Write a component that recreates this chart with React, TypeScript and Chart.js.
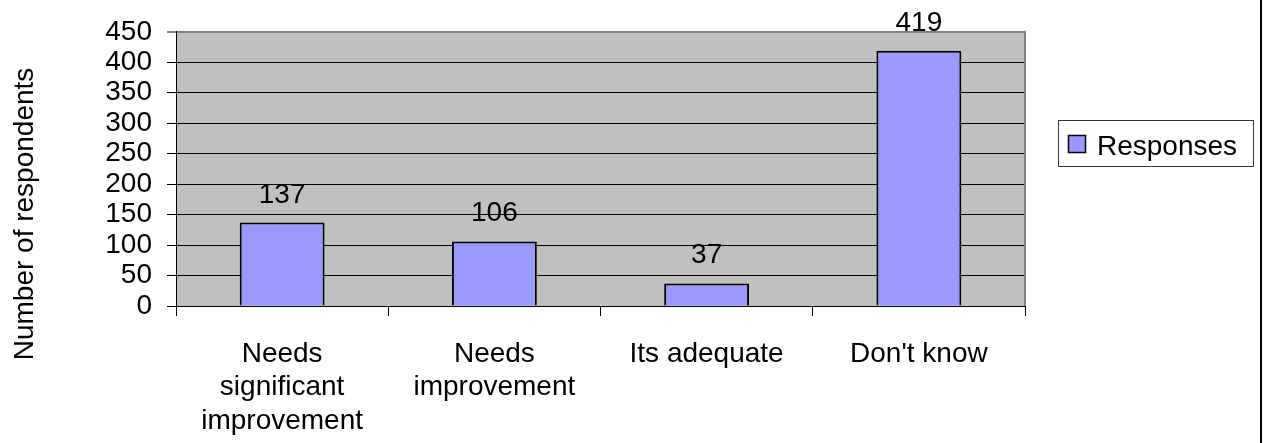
import React, { useEffect, useRef } from "react";
import { Chart, registerables } from "chart.js";

Chart.register(...registerables);

const categories: (string | string[])[] = [
  ["Needs", "significant", "improvement"],
  ["Needs", "improvement"],
  "Its adequate",
  "Don't know",
];
const seriesLabel = "Responses";
const responses: number[] = [137, 106, 37, 419];
const yTicks: number[] = [0, 50, 100, 150, 200, 250, 300, 350, 400, 450];
const yTitle = "Number of respondents";

const FONT = "'Liberation Sans', Arial, sans-serif";
const BAR_COLOR = "#9999FF";

export default function App() {
  const ref = useRef<HTMLCanvasElement | null>(null);

  useEffect(() => {
    if (!ref.current) return;
    const decor = {
      id: "decor",
      beforeDraw(chart: any) {
        const { ctx, chartArea: a } = chart;
        ctx.save();
        ctx.fillStyle = "#C0C0C0";
        ctx.fillRect(a.left, a.top, a.right - a.left, a.bottom - a.top);
        ctx.restore();
      },
      afterDatasetsDraw(chart: any) {
        const { ctx, chartArea: a } = chart;
        ctx.save();
        ctx.strokeStyle = "#808080";
        ctx.lineWidth = 2;
        ctx.beginPath();
        ctx.moveTo(a.right, a.top - 1);
        ctx.lineTo(a.right, a.bottom);
        ctx.stroke();
        ctx.fillStyle = "#000";
        ctx.font = `28px ${FONT}`;
        ctx.textAlign = "center";
        ctx.textBaseline = "alphabetic";
        const meta = chart.getDatasetMeta(0);
        meta.data.forEach((bar: any, i: number) => {
          ctx.fillText(String(chart.data.datasets[0].data[i]), bar.x, bar.y - 20);
        });
        ctx.restore();
      },
      afterDraw(chart: any) {
        const { ctx } = chart;
        ctx.save();
        ctx.fillStyle = "#000";
        ctx.font = `28px ${FONT}`;
        ctx.translate(33, 214);
        ctx.rotate(-Math.PI / 2);
        ctx.textAlign = "center";
        ctx.textBaseline = "alphabetic";
        ctx.fillText(yTitle, 0, 0);
        ctx.restore();

        ctx.save();
        ctx.fillStyle = "#fff";
        ctx.fillRect(1058, 120, 195, 46);
        ctx.strokeStyle = "#333";
        ctx.lineWidth = 1;
        ctx.strokeRect(1058.5, 120.5, 195, 46);
        const ds = chart.data.datasets[0];
        ctx.fillStyle = ds.backgroundColor;
        ctx.fillRect(1068, 135, 17, 17);
        ctx.strokeStyle = "#000";
        ctx.lineWidth = 1.5;
        ctx.strokeRect(1068.5, 135.5, 17, 17);
        ctx.fillStyle = "#000";
        ctx.font = `28px ${FONT}`;
        ctx.textAlign = "left";
        ctx.textBaseline = "alphabetic";
        ctx.fillText(ds.label, 1097, 155);

        ctx.strokeStyle = "#000";
        ctx.lineWidth = 2;
        ctx.beginPath();
        ctx.moveTo(1261, 0);
        ctx.lineTo(1261, 443);
        ctx.stroke();
        ctx.restore();
      },
    };

    const chart = new Chart(ref.current, {
      type: "bar",
      data: {
        labels: categories,
        datasets: [
          {
            label: seriesLabel,
            data: responses,
            backgroundColor: BAR_COLOR,
            borderColor: "#000",
            borderWidth: 2,
            barPercentage: 0.4,
            categoryPercentage: 1,
          },
        ],
      },
      options: {
        animation: false,
        responsive: false,
        devicePixelRatio: 1,
        layout: { padding: { top: 30, right: 238, left: 0, bottom: 0 } },
        plugins: {
          legend: { display: false },
          tooltip: { enabled: false },
        },
        scales: {
          x: {
            grid: {
              offset: true,
              drawOnChartArea: false,
              drawTicks: true,
              tickLength: 10,
              tickColor: "#000",
              color: "#000",
            },
            border: { color: "#000", width: 1 },
            ticks: {
              color: "#000",
              font: { family: FONT, size: 28, lineHeight: 1.2 },
              padding: 21,
              maxRotation: 0,
              autoSkip: false,
            },
            afterFit(scale: any) {
              scale.height = 137;
            },
          },
          y: {
            min: 0,
            max: 450,
            afterBuildTicks(scale: any) {
              scale.ticks = yTicks.map((v) => ({ value: v }));
            },
            grid: {
              color: (c: any) => (c.tick && c.tick.value === 450 ? "#808080" : "#000"),
              lineWidth: (c: any) => (c.tick && c.tick.value === 450 ? 2 : 1),
              tickLength: 9,
              tickColor: "#000",
              tickWidth: 1,
            },
            border: { color: "#000", width: 1 },
            ticks: {
              color: "#000",
              font: { family: FONT, size: 28 },
              padding: 15,
              autoSkip: false,
            },
            afterFit(scale: any) {
              scale.width = 176;
            },
          },
        },
      },
      plugins: [decor],
    });
    return () => chart.destroy();
  }, []);

  return (
    <div style={{ position: "absolute", left: 0, top: 0, width: 1263, height: 443, background: "#fff" }}>
      <canvas ref={ref} width={1263} height={443} style={{ display: "block" }} />
    </div>
  );
}
